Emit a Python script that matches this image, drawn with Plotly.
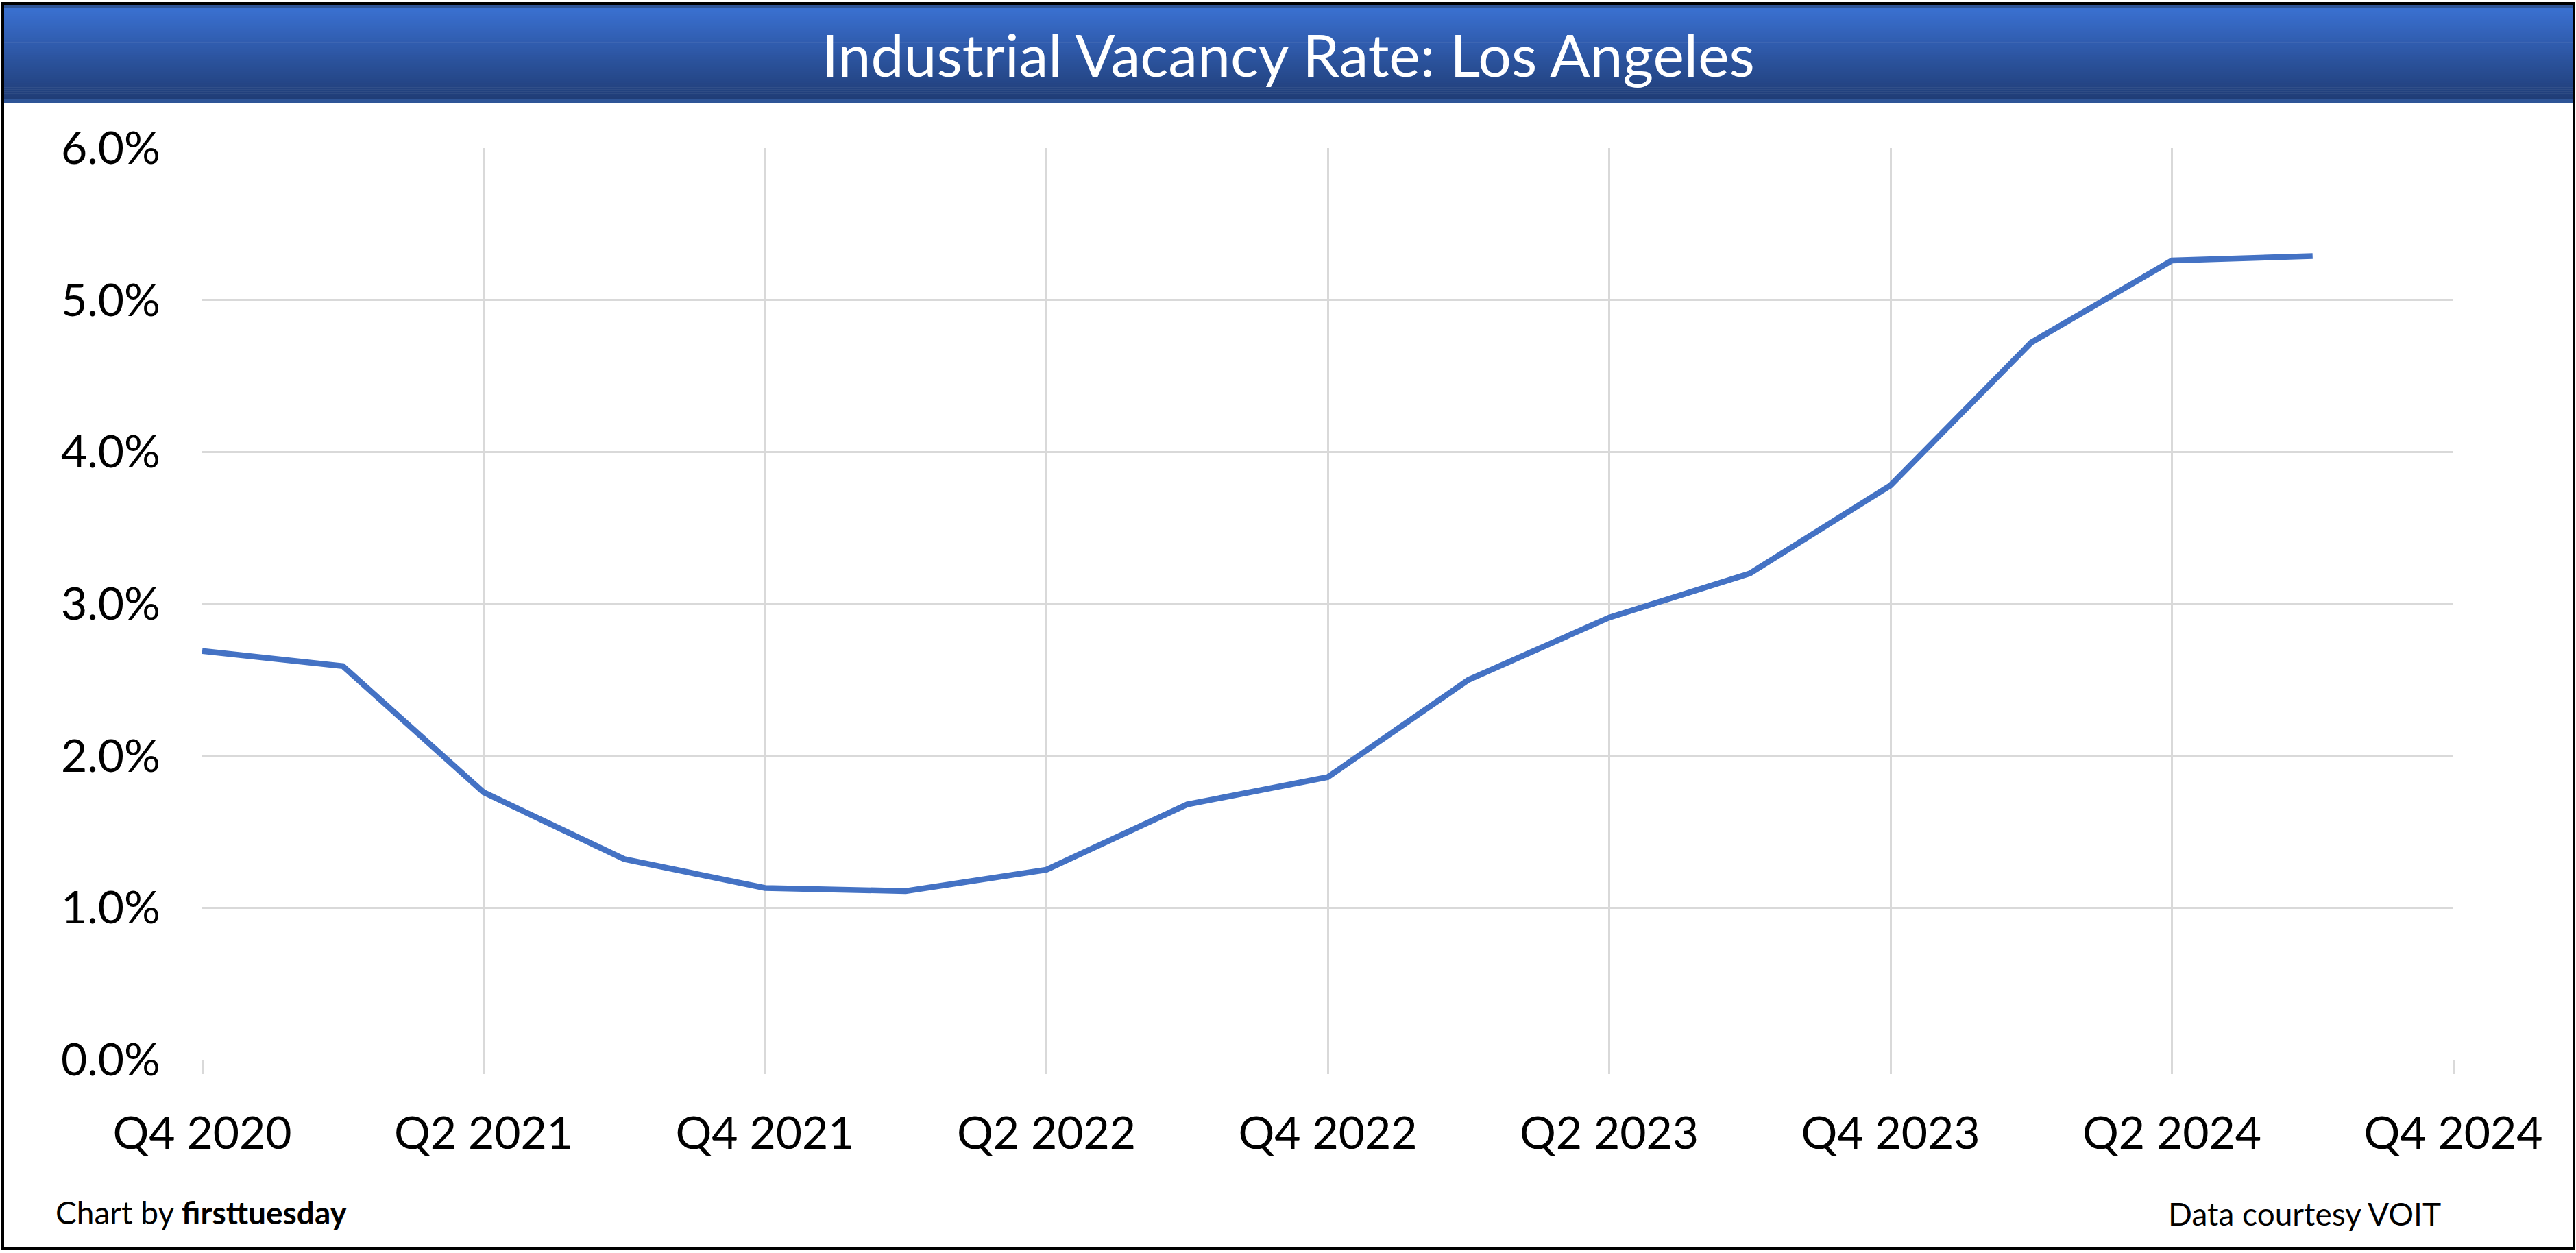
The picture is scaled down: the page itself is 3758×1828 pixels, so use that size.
import plotly.graph_objects as go

# ---- data ----
quarters = ["Q4 2020", "Q1 2021", "Q2 2021", "Q3 2021", "Q4 2021",
            "Q1 2022", "Q2 2022", "Q3 2022", "Q4 2022", "Q1 2023",
            "Q2 2023", "Q3 2023", "Q4 2023", "Q1 2024", "Q2 2024",
            "Q3 2024", "Q4 2024"]
vacancy_rate = [2.69, 2.59, 1.76, 1.32, 1.13, 1.11, 1.25, 1.68, 1.86, 2.50,
                2.91, 3.20, 3.78, 4.72, 5.26, 5.29, None]
x_tick_labels = quarters[::2]
y_tick_values = [0, 1, 2, 3, 4, 5, 6]
y_tick_labels = ["0.0%", "1.0%", "2.0%", "3.0%", "4.0%", "5.0%", "6.0%"]

title_text = "Industrial Vacancy Rate: Los Angeles"
credit_left = "Chart by <b>firsttuesday</b>"
credit_right = "Data courtesy VOIT"

# ---- layout geometry (pixels) ----
W, H = 3758, 1828
ML, MR, MT, MB = 295, 179, 216, 282
PW, PH = W - ML - MR, H - MT - MB


def px(xp):
    return (xp - ML) / PW


def py(yp):
    return (H - MB - yp) / PH


FONT = "Lato"

fig = go.Figure()
fig.add_trace(go.Scatter(
    x=quarters, y=vacancy_rate, mode="lines",
    line=dict(color="#4472C4", width=8.5), connectgaps=False,
    showlegend=False, hoverinfo="skip",
))

shapes = []
# title bar gradient
top_c = (0x3A, 0x70, 0xD0)
bot_c = (0x20, 0x3D, 0x77)
y0, y1 = 12, 145
n = 45
for i in range(n):
    t = i / (n - 1)
    c = tuple(int(round(top_c[k] + (bot_c[k] - top_c[k]) * t)) for k in range(3))
    ya = y0 + (y1 - y0) * i / n
    yb = y0 + (y1 - y0) * (i + 1) / n + 0.6
    shapes.append(dict(type="rect", xref="paper", yref="paper",
                       x0=px(4), x1=px(3755), y0=py(yb), y1=py(ya),
                       line=dict(width=0), fillcolor="rgb(%d,%d,%d)" % c))
# darker rims of the bar
for (a, b) in [(7, 12), (145, 150)]:
    shapes.append(dict(type="rect", xref="paper", yref="paper",
                       x0=px(4), x1=px(3755), y0=py(b), y1=py(a),
                       line=dict(width=0), fillcolor="#2F5597"))
# outer frame
shapes.append(dict(type="rect", xref="paper", yref="paper",
                   x0=px(4), x1=px(3755), y0=py(1821), y1=py(5),
                   line=dict(color="black", width=4), fillcolor="rgba(0,0,0,0)"))

annotations = [
    dict(text=title_text, xref="paper", yref="paper", x=px(W / 2), y=py(79),
         xanchor="center", yanchor="middle", showarrow=False,
         font=dict(family=FONT, size=86, color="white")),
    dict(text=credit_left, xref="paper", yref="paper", x=px(79), y=py(1768),
         xanchor="left", yanchor="middle", showarrow=False,
         font=dict(family=FONT, size=46, color="black")),
    dict(text=credit_right, xref="paper", yref="paper", x=px(3563), y=py(1770),
         xanchor="right", yanchor="middle", showarrow=False,
         font=dict(family=FONT, size=46, color="black")),
]

fig.update_layout(
    width=W, height=H,
    margin=dict(l=ML, r=MR, t=MT, b=MB, autoexpand=False),
    paper_bgcolor="white", plot_bgcolor="white",
    shapes=shapes, annotations=annotations,
    font=dict(family=FONT, color="black"),
)
fig.update_xaxes(
    type="category", range=[0, len(quarters) - 1],
    tickmode="array", tickvals=x_tick_labels, ticktext=x_tick_labels,
    showgrid=True, gridcolor="#D9D9D9", gridwidth=3,
    ticks="outside", ticklen=20, tickwidth=3, tickcolor="#D9D9D9",
    tickfont=dict(family=FONT, size=66, color="black"),
    ticklabelstandoff=30,
    showline=False, zeroline=False, automargin=False,
)
fig.update_yaxes(
    range=[0, 6], tickmode="array", tickvals=y_tick_values,
    ticktext=y_tick_labels,
    showgrid=True, gridcolor="#D9D9D9", gridwidth=3,
    ticks="", tickfont=dict(family=FONT, size=66, color="black"),
    ticklabelstandoff=60,
    showline=False, zeroline=False, automargin=False,
)

fig.write_html("out.html",
               config={"displayModeBar": False},
               post_script="document.body.style.margin='0';"
                           "document.body.style.overflow='hidden';")
